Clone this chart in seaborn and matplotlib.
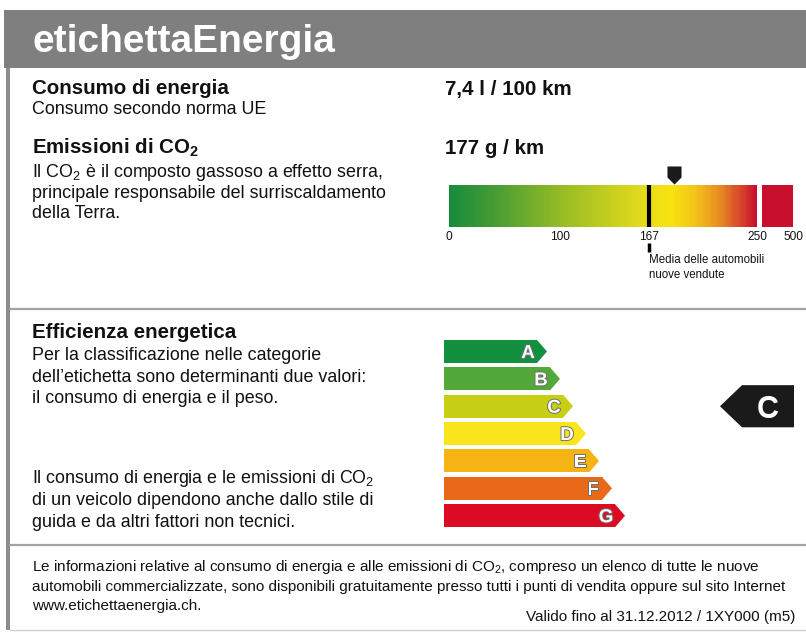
import numpy as np
import pandas as pd
import seaborn as sns
import matplotlib.pyplot as plt
from matplotlib.colors import LinearSegmentedColormap
from matplotlib.patches import Polygon, Rectangle
from matplotlib.path import Path
import matplotlib.patheffects as pe

# Label values
consumo = "7,4 l / 100 km"
co2_text = "177 g / km"
co2_value = 177
co2_avg = 167
co2_ticks = [0, 100, 167, 250, 500]
classes = ["A", "B", "C", "D", "E", "F", "G"]
class_len = [93, 106, 119, 132, 145, 158, 171]
class_colors = ["#13903f", "#52a838", "#c6cf14", "#f8e51c", "#f6b414", "#e86a18", "#dc0a22"]
rated = "C"
valid_text = "Valido fino al 31.12.2012 / 1XY000 (m5)"

sns.set_theme(style="white")
plt.rcParams['font.family'] = ['Liberation Sans', 'DejaVu Sans']
plt.rcParams['mathtext.default'] = 'regular'

W, H = 806, 632
fig = plt.figure(figsize=(W / 100, H / 100), dpi=100)


def box(x0, y0, x1, y1):
    # pixel box (top-left origin) -> figure fraction
    return [x0 / W, 1 - y1 / H, (x1 - x0) / W, (y1 - y0) / H]


# Canvas for frame and text, in pixels
cv = fig.add_axes([0, 0, 1, 1])
cv.set_xlim(0, W)
cv.set_ylim(H, 0)
cv.axis('off')

cv.add_patch(Rectangle((4, 10), W - 4, 58, color='#7f7f7f', lw=0))
cv.add_patch(Rectangle((6, 68), 4, 562, color='#8c8c8c', lw=0))
for yy in [309, 545]:
    cv.plot([10, W], [yy, yy], color='#a3a3a3', lw=1.6)
cv.plot([10, W], [630, 630], color='#d0d0d0', lw=1)

cv.text(32, 52, "etichettaEnergia", color='white', fontsize=28, weight='bold', va='baseline')

bold = dict(fontsize=14.8, weight='bold', va='baseline', color='#111111')
reg = dict(fontsize=12.9, va='baseline', color='#111111')
small = dict(fontsize=11, va='baseline', color='#111111')

cv.text(32, 94, "Consumo di energia", **bold)
cv.text(32, 114, "Consumo secondo norma UE", **reg)
cv.text(445, 95, consumo, **bold)

cv.text(32, 154, "Emissioni di CO$_2$", **bold)
cv.text(445, 154, co2_text, **bold)
co2_lines = ["Il CO$_2$ è il composto gassoso a effetto serra,",
             "principale responsabile del surriscaldamento",
             "della Terra."]
for i, line in enumerate(co2_lines):
    cv.text(32, 177 + i * 20.5, line, **reg)

cv.text(32, 338, "Efficienza energetica", **bold)
eff_lines = ["Per la classificazione nelle categorie",
             "dell’etichetta sono determinanti due valori:",
             "il consumo di energia e il peso."]
for i, line in enumerate(eff_lines):
    cv.text(32, 360 + i * 21.5, line, **reg)
note_lines = ["Il consumo di energia e le emissioni di CO$_2$",
              "di un veicolo dipendono anche dallo stile di",
              "guida e da altri fattori non tecnici."]
for i, line in enumerate(note_lines):
    cv.text(32, 483 + i * 22, line, **reg)

foot_lines = ["Le informazioni relative al consumo di energia e alle emissioni di CO$_2$, compreso un elenco di tutte le nuove",
              "automobili commercializzate, sono disponibili gratuitamente presso tutti i punti di vendita oppure sul sito Internet",
              "www.etichettaenergia.ch."]
for i, line in enumerate(foot_lines):
    cv.text(32, 571 + i * 19.5, line, **small)
cv.text(795, 621, valid_text, ha='right', **small)

# CO2 scale (piecewise scale as printed on the label)
knots_v = [0, 100, 167, 177, 250, 500]
knots_p = [449, 560, 649, 674, 757, 793]
fwd = lambda v: np.interp(v, knots_v, knots_p)
inv = lambda p: np.interp(p, knots_p, knots_v)

ax = fig.add_axes(box(449, 185, 793, 227))
ax.set_xscale('function', functions=(fwd, inv))
ax.set_xlim(0, 500)
ax.set_ylim(0, 1)

co2_cmap = LinearSegmentedColormap.from_list(
    'co2', [(0.0, '#178b3c'), (0.16, '#4c9e33'), (0.36, '#96bb26'),
            (0.55, '#cdd11e'), (0.64, '#e6dc1a'), (0.72, '#f8e30f'),
            (0.80, '#f3c41a'), (0.88, '#e88d22'), (0.95, '#d8452a'), (1.0, '#c8102e')])
edges_p = np.linspace(449, 757, 301)
ax.pcolormesh(inv(edges_p), [0, 1], np.linspace(0, 1, 300)[None, :],
              cmap=co2_cmap, shading='flat', antialiased=False, linewidth=0)
ax.axvspan(inv(762), 500, color='#c8102e', lw=0)
ax.axvline(co2_avg, color='black', lw=3)

ptr = Path([(-7, 9), (7, 9), (7, -2), (0, -9), (-7, -2), (-7, 9)],
           [Path.MOVETO] + [Path.LINETO] * 4 + [Path.CLOSEPOLY])
ax.plot([co2_value], [1.24], marker=ptr, ms=13, color='#1a1a1a', mew=0, clip_on=False)

ax.set_xticks(co2_ticks)
ax.set_xticklabels([str(t) for t in co2_ticks], fontsize=8.6, color='#111111')
ax.tick_params(axis='x', length=0, pad=3)
ax.set_yticks([])
for s in ax.spines.values():
    s.set_visible(False)
ax.plot([co2_avg, co2_avg], [-0.38, -0.6], color='black', lw=2.5, clip_on=False, solid_capstyle='butt')
ax.text(co2_avg, -0.64, "Media delle automobili\nnuove vendute", ha='left', va='top',
        fontsize=8.3, linespacing=1.35, color='#111111', clip_on=False)

# Efficiency classes
ax2 = fig.add_axes(box(444, 337.8, 806, 529.4))
df_cls = pd.DataFrame({'cls': classes, 'len': class_len})
sns.barplot(data=df_cls, x='len', y='cls', hue='cls', palette=class_colors, legend=False,
            orient='h', width=0.842, saturation=1, linewidth=0, ax=ax2)
ax2.set_xlim(0, W - 444)
ax2.set_ylim(6.5, -0.5)
ax2.axis('off')

for i, p in enumerate(ax2.patches[:len(classes)]):
    xe = p.get_x() + p.get_width()
    y0, h = p.get_y(), p.get_height()
    ax2.add_patch(Polygon([(xe, y0), (xe + 10, y0 + h / 2), (xe, y0 + h)],
                          closed=True, color=p.get_facecolor(), lw=0))
    ax2.text(xe - 9, y0 + h / 2, classes[i], ha='center', va='center_baseline',
             color='white', fontsize=13.5, weight='bold',
             path_effects=[pe.withStroke(linewidth=1.4, foreground='#707070')])

ri = classes.index(rated)
ax2.add_patch(Polygon([(276, ri), (298, ri - 0.77), (350, ri - 0.77), (350, ri + 0.77), (298, ri + 0.77)],
                      closed=True, color='#1a1a1a', lw=0))
ax2.text(324, ri, rated, ha='center', va='center_baseline', color='white', fontsize=22, weight='bold')

fig.savefig('out.png', dpi=100)
